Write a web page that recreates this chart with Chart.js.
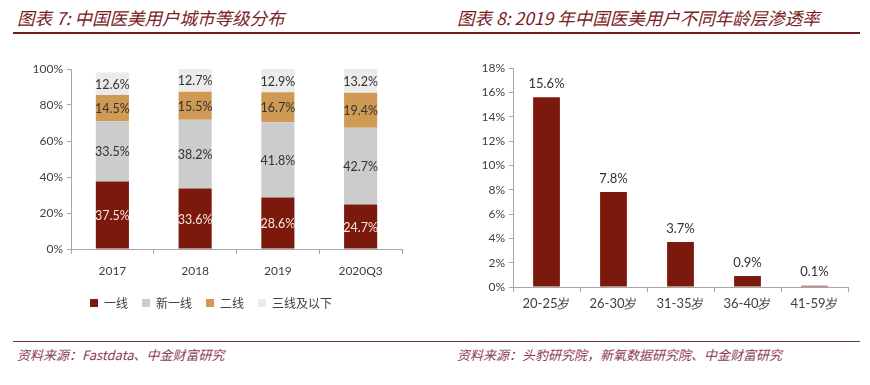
<!DOCTYPE html>
<html>
<head>
<meta charset="utf-8">
<script src="https://cdn.jsdelivr.net/npm/chart.js@4"></script>
<style>
  body { margin: 0; background: #ffffff; width: 870px; height: 385px; position: relative; overflow: hidden; }
  .title { position: absolute; top: 5px; font-family: "Noto Sans CJK SC"; font-style: italic; font-size: 17.5px; color: #7a2125; white-space: nowrap; }
  .source { position: absolute; top: 345px; font-family: "Noto Sans CJK SC"; font-style: italic; font-size: 13px; color: #8c3b55; white-space: nowrap; }
  .topline { position: absolute; left: 13px; width: 847px; top: 32px; height: 2px; background: #6e1c22; }
  .botline { position: absolute; left: 13px; width: 847px; top: 341px; height: 1px; background: #6b3650; }
  canvas { position: absolute; }
</style>
</head>
<body>
<div class="title" style="left:17px">图表 7: 中国医美用户城市等级分布</div>
<div class="title" style="left:457px">图表 8: 2019 年中国医美用户不同年龄层渗透率</div>
<div class="topline"></div>
<canvas id="cityChart" width="400" height="275" style="left:20px;top:50px"></canvas>
<canvas id="ageChart" width="420" height="270" style="left:450px;top:50px"></canvas>
<div class="botline"></div>
<div class="source" style="left:17px">资料来源：Fastdata、中金财富研究</div>
<div class="source" style="left:457px">资料来源：头豹研究院，新氧数据研究院、中金财富研究</div>

<script>
// chart 7 data
const years = ["2017", "2018", "2019", "2020Q3"];
const tier1 = [37.5, 33.6, 28.6, 24.7];
const newTier1 = [33.5, 38.2, 41.8, 42.7];
const tier2 = [14.5, 15.5, 16.7, 19.4];
const tier3Below = [12.6, 12.7, 12.9, 13.2];

// chart 8 data
const ageGroups = ["20-25岁", "26-30岁", "31-35岁", "36-40岁", "41-59岁"];
const penetration = [15.6, 7.8, 3.7, 0.9, 0.1];

const tickFont = { family: "Lato", size: 12 };
const axisColor = "#a6a6a6";

// draws the % text on each bar
const valueLabels = {
    id: "valueLabels",
    afterDatasetsDraw(chart, args, opts) {
        const ctx = chart.ctx;
        ctx.save();
        ctx.font = opts.size + "px Lato";
        ctx.textAlign = "center";
        chart.data.datasets.forEach(function(ds, i) {
            const meta = chart.getDatasetMeta(i);
            meta.data.forEach(function(bar, j) {
                const text = ds.data[j].toFixed(1) + "%";
                ctx.fillStyle = ds.labelColor || "#333333";
                if (opts.above) {
                    ctx.textBaseline = "bottom";
                    ctx.fillText(text, bar.x, bar.y - 7);
                } else {
                    ctx.textBaseline = "middle";
                    ctx.fillText(text, bar.x, (bar.y + bar.base) / 2 + 1);
                }
            });
        });
        ctx.restore();
    }
};

function percentTick(value) {
    return value + "%";
}

new Chart(document.getElementById("cityChart"), {
    type: "bar",
    data: {
        labels: years,
        datasets: [
            { label: "一线", data: tier1, backgroundColor: "#7b1a0c", labelColor: "#f7e6e0" },
            { label: "新一线", data: newTier1, backgroundColor: "#cccccc" },
            { label: "二线", data: tier2, backgroundColor: "#d09a55" },
            { label: "三线及以下", data: tier3Below, backgroundColor: "#ebebeb" }
        ]
    },
    options: {
        responsive: false,
        animation: false,
        devicePixelRatio: 1,
        categoryPercentage: 1,
        barPercentage: 0.4,
        layout: { padding: { top: 19, right: 18, left: 0, bottom: 6 } },
        plugins: {
            legend: {
                position: "bottom",
                labels: {
                    font: { family: "Noto Sans CJK SC", size: 12 },
                    color: "#404040",
                    boxWidth: 8,
                    boxHeight: 8,
                    padding: 14
                }
            },
            tooltip: { enabled: false },
            valueLabels: { size: 12.5, above: false }
        },
        scales: {
            x: {
                stacked: true,
                grid: { display: true, drawOnChartArea: false, offset: true, tickLength: 5, color: axisColor },
                border: { color: axisColor },
                ticks: { font: tickFont, color: "#404040", padding: 10 },
                afterFit: function(axis) { axis.height = 34; }
            },
            y: {
                stacked: true,
                min: 0,
                max: 100,
                grid: { display: true, drawOnChartArea: false, tickLength: 4, color: axisColor },
                border: { color: axisColor },
                ticks: { stepSize: 20, font: tickFont, color: "#404040", callback: percentTick, padding: 4 },
                afterFit: function(axis) { axis.width = 51; }
            }
        }
    },
    plugins: [valueLabels]
});

new Chart(document.getElementById("ageChart"), {
    type: "bar",
    data: {
        labels: ageGroups,
        datasets: [
            { label: "渗透率", data: penetration, backgroundColor: "#7b1a0c" }
        ]
    },
    options: {
        responsive: false,
        animation: false,
        devicePixelRatio: 1,
        categoryPercentage: 1,
        barPercentage: 0.4,
        layout: { padding: { top: 18, right: 22, left: 0, bottom: 0 } },
        plugins: {
            legend: { display: false },
            tooltip: { enabled: false },
            valueLabels: { size: 13, above: true }
        },
        scales: {
            x: {
                grid: { display: true, drawOnChartArea: false, offset: true, tickLength: 5, color: axisColor },
                border: { color: axisColor },
                ticks: { font: { family: "Lato", size: 13 }, color: "#404040", padding: 4 },
                afterFit: function(axis) { axis.height = 33; }
            },
            y: {
                min: 0,
                max: 18,
                grid: { display: true, drawOnChartArea: false, tickLength: 4, color: axisColor },
                border: { color: axisColor },
                ticks: { stepSize: 2, font: tickFont, color: "#404040", callback: percentTick, padding: 4 },
                afterFit: function(axis) { axis.width = 63; }
            }
        }
    },
    plugins: [valueLabels]
});
</script>
</body>
</html>
